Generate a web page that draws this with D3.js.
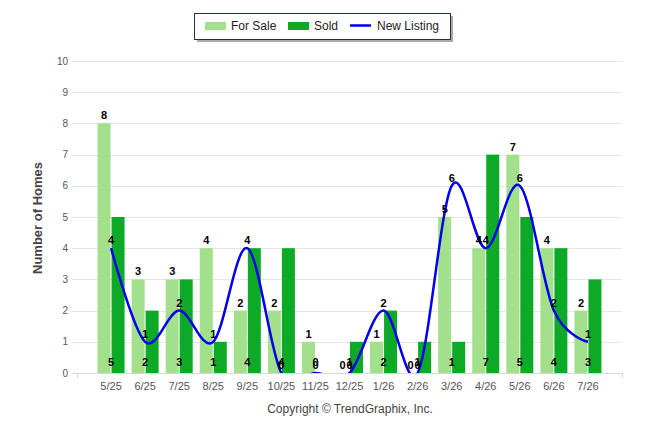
<!DOCTYPE html>
<html>
<head>
<meta charset="utf-8">
<script src="https://cdn.jsdelivr.net/npm/d3@7"></script>
<style>
  html, body { margin: 0; padding: 0; background: #fff; }
  svg { display: block; font-family: "Liberation Sans", Arial, sans-serif; }
</style>
</head>
<body>
<div id="chart"></div>
<script>
const months = ['5/25', '6/25', '7/25', '8/25', '9/25', '10/25', '11/25', '12/25', '1/26', '2/26', '3/26', '4/26', '5/26', '6/26', '7/26'];
const forSale = [8, 3, 3, 4, 2, 2, 1, 0, 1, 0, 5, 4, 7, 4, 2];
const sold = [5, 2, 3, 1, 4, 4, 0, 1, 2, 1, 1, 7, 5, 4, 3];
const newListing = [4, 1, 2, 1, 4, 0, 0, 0, 2, 0, 6, 4, 6, 2, 1];
const yTicks = [0, 1, 2, 3, 4, 5, 6, 7, 8, 9, 10];

const width = 646;
const height = 434;

const colors = { forSale: '#a3e08b', sold: '#0caa26', line: '#0000ee' };

const svg = d3
	.select('#chart')
	.append('svg')
	.attr('width', width)
	.attr('height', height);

const x = d3.scaleBand().domain(months).range([77, 622]).paddingOuter(0.5).paddingInner(0);
const y = d3.scaleLinear().domain([0, 10]).range([373, 61]);

const barW = 13;
const gap = 1;

// Gridlines
svg
	.append('g')
	.selectAll('line')
	.data(yTicks.filter(d => d > 0))
	.enter()
	.append('line')
	.attr('x1', 72)
	.attr('x2', 622)
	.attr('y1', d => Math.round(y(d)) + 0.5)
	.attr('y2', d => Math.round(y(d)) + 0.5)
	.attr('stroke', '#e6e6e6')
	.attr('stroke-width', 1);

// Y labels
svg
	.append('g')
	.selectAll('text')
	.data(yTicks)
	.enter()
	.append('text')
	.attr('x', 68)
	.attr('y', d => y(d) + 3.5)
	.attr('text-anchor', 'end')
	.attr('font-size', 10)
	.attr('fill', '#555')
	.text(d => d);

// X axis line
const xAxis = svg.append('g');
xAxis
	.append('line')
	.attr('x1', 72)
	.attr('x2', 622)
	.attr('y1', 373.5)
	.attr('y2', 373.5)
	.attr('stroke', '#d8d8d8');
[77, 622].forEach(px => {
	xAxis
		.append('line')
		.attr('x1', px + 0.5)
		.attr('x2', px + 0.5)
		.attr('y1', 373)
		.attr('y2', 378)
		.attr('stroke', '#d8d8d8');
});
xAxis
	.selectAll('text')
	.data(months)
	.enter()
	.append('text')
	.attr('x', d => x(d) + x.bandwidth() / 2)
	.attr('y', 390)
	.attr('text-anchor', 'middle')
	.attr('font-size', 11)
	.attr('fill', '#555')
	.text(d => d);

// Bars
const bars = svg.append('g');
bars
	.selectAll('rect.fs')
	.data(months)
	.enter()
	.append('rect')
	.attr('class', 'fs')
	.attr('x', d => x(d) + x.bandwidth() / 2 - barW - gap / 2)
	.attr('y', (d, i) => y(forSale[i]))
	.attr('width', barW)
	.attr('height', (d, i) => y(0) - y(forSale[i]))
	.attr('fill', colors.forSale);
bars
	.selectAll('rect.sd')
	.data(months)
	.enter()
	.append('rect')
	.attr('class', 'sd')
	.attr('x', d => x(d) + x.bandwidth() / 2 + gap / 2)
	.attr('y', (d, i) => y(sold[i]))
	.attr('width', barW)
	.attr('height', (d, i) => y(0) - y(sold[i]))
	.attr('fill', colors.sold);

// New listing line
svg
	.append('clipPath')
	.attr('id', 'plotClip')
	.append('rect')
	.attr('x', 72)
	.attr('y', 40)
	.attr('width', 560)
	.attr('height', y(0) - 40);

const line = d3
	.line()
	.x((d, i) => x(months[i]) + x.bandwidth() / 2)
	.y(d => y(d))
	.curve(d3.curveCardinal.tension(0));

svg
	.append('path')
	.datum(newListing)
	.attr('clip-path', 'url(#plotClip)')
	.attr('d', line)
	.attr('fill', 'none')
	.attr('stroke', colors.line)
	.attr('stroke-width', 2.5);

// Data labels
const labels = svg.append('g').attr('font-size', 11).attr('font-weight', 'bold').attr('fill', '#000').attr('text-anchor', 'middle');
labels
	.selectAll('text.fs')
	.data(months)
	.enter()
	.append('text')
	.attr('x', d => x(d) + x.bandwidth() / 2 - barW / 2 - gap / 2)
	.attr('y', (d, i) => y(forSale[i]) - 4)
	.text((d, i) => forSale[i]);
labels
	.selectAll('text.sd')
	.data(months)
	.enter()
	.append('text')
	.attr('x', d => x(d) + x.bandwidth() / 2)
	.attr('y', 366)
	.text((d, i) => sold[i]);
labels
	.selectAll('text.nl')
	.data(months)
	.enter()
	.append('text')
	.attr('x', d => x(d) + x.bandwidth() / 2)
	.attr('y', (d, i) => y(newListing[i]) - 4)
	.text((d, i) => newListing[i]);

// Y axis title
svg
	.append('text')
	.attr('transform', 'translate(42,218) rotate(-90)')
	.attr('text-anchor', 'middle')
	.attr('font-size', 13)
	.attr('font-weight', 'bold')
	.attr('fill', '#444')
	.text('Number of Homes');

// Copyright
svg
	.append('text')
	.attr('x', 350)
	.attr('y', 413)
	.attr('text-anchor', 'middle')
	.attr('font-size', 12)
	.attr('fill', '#444')
	.text('Copyright \u00a9 TrendGraphix, Inc.');

// Legend
const legend = svg.append('g');
legend
	.append('rect')
	.attr('x', 197)
	.attr('y', 16)
	.attr('width', 256)
	.attr('height', 26)
	.attr('fill', '#aaa');
legend
	.append('rect')
	.attr('x', 194.5)
	.attr('y', 13.5)
	.attr('width', 256)
	.attr('height', 26)
	.attr('fill', '#fff')
	.attr('stroke', '#1f3050')
	.attr('stroke-width', 1);

const items = [
	{ label: 'For Sale', type: 'bar', color: colors.forSale, x: 205, tx: 231 },
	{ label: 'Sold', type: 'bar', color: colors.sold, x: 288, tx: 314 },
	{ label: 'New Listing', type: 'line', color: colors.line, x: 350, tx: 377 }
];
items.forEach(it => {
	if (it.type === 'bar') {
		legend.append('rect').attr('x', it.x).attr('y', 22).attr('width', 21).attr('height', 8).attr('fill', it.color);
	} else {
		legend.append('line').attr('x1', it.x).attr('x2', it.x + 21).attr('y1', 25.5).attr('y2', 25.5).attr('stroke', it.color).attr('stroke-width', 2.5);
	}
	legend
		.append('text')
		.attr('x', it.tx)
		.attr('y', 30)
		.attr('font-size', 12)
		.attr('fill', '#222')
		.text(it.label);
});
</script>
</body>
</html>
